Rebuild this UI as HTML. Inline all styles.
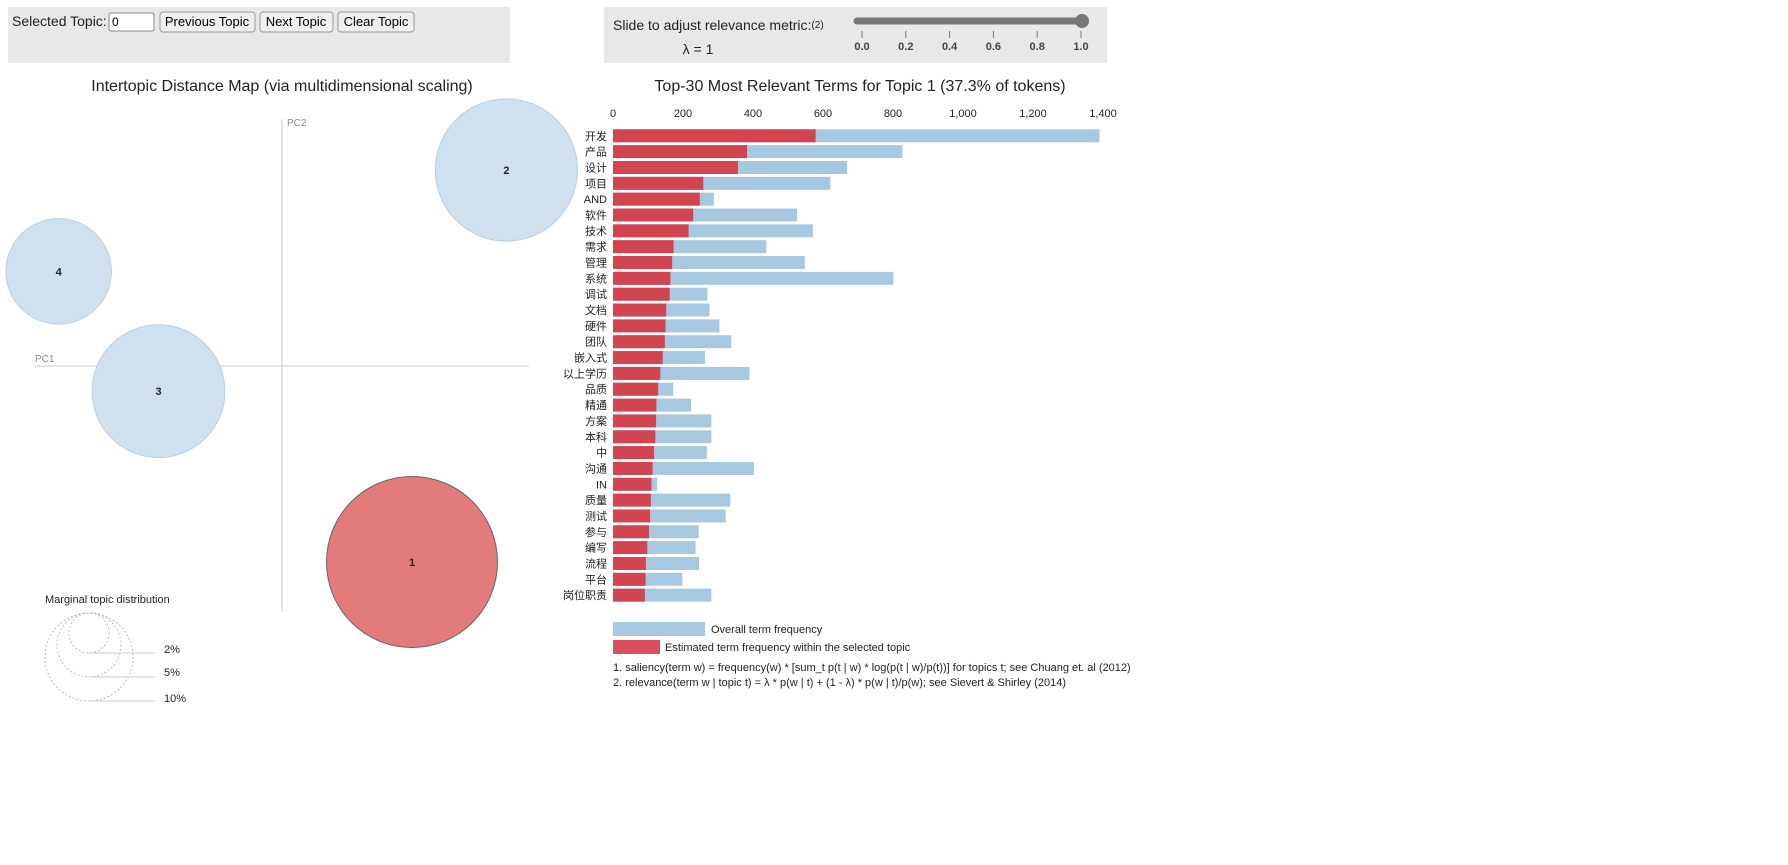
<!DOCTYPE html>
<html><head><meta charset="utf-8"><style>
body{margin:0;width:1788px;height:865px;background:#fff;overflow:hidden;font-family:"Liberation Sans","Noto Sans CJK SC",sans-serif;}
svg{position:absolute;left:0;top:0}
text{font-family:"Liberation Sans","Noto Sans CJK SC",sans-serif}
</style></head><body>
<svg id="s" width="1788" height="865">
 <rect x="8" y="7" width="502" height="56" fill="#e8e8e8"/>
 <text x="12" y="26" font-size="14" fill="#222">Selected Topic:</text>
 <g><rect x="109" y="13" width="45" height="18" fill="#fff" stroke="#888" rx="2"/><text x="112" y="26" font-size="12">0</text></g>
 <g><rect x="160" y="12" width="95" height="20" fill="#efefef" stroke="#999" rx="3"/><text x="207" y="26" font-size="13" text-anchor="middle">Previous Topic</text></g>
 <g><rect x="260" y="12" width="73" height="20" fill="#efefef" stroke="#999" rx="3"/><text x="296" y="26" font-size="13" text-anchor="middle">Next Topic</text></g>
 <g><rect x="338" y="12" width="76" height="20" fill="#efefef" stroke="#999" rx="3"/><text x="376" y="26" font-size="13" text-anchor="middle">Clear Topic</text></g>

 <rect x="604" y="7" width="503" height="56" fill="#e8e8e8"/>
 <text x="613" y="30" font-size="14" fill="#222">Slide to adjust relevance metric:<tspan font-size="10" dy="-2">(2)</tspan></text>
 <text x="698" y="54" font-size="14" fill="#222" text-anchor="middle">λ = 1</text>
 <g id="slider">
  <line x1="857" y1="21" x2="1082" y2="21" stroke="#777" stroke-width="7" stroke-linecap="round"/>
  <circle cx="1082" cy="21" r="7" fill="#777"/>
 </g>

 <text x="282" y="91" font-size="16" fill="#222" text-anchor="middle">Intertopic Distance Map (via multidimensional scaling)</text>
 <text x="860" y="91" font-size="16" fill="#222" text-anchor="middle">Top-30 Most Relevant Terms for Topic 1 (37.3% of tokens)</text>

 <line x1="282" y1="119" x2="282" y2="612" stroke="#ccc"/>
 <line x1="34" y1="366" x2="529" y2="366" stroke="#ccc"/>
 <text x="287" y="126" font-size="10" fill="#888">PC2</text>
 <text x="35" y="362" font-size="10" fill="#888">PC1</text>
 <g id="circles"></g>

 <g>
  <text x="45" y="603" font-size="11" fill="#222">Marginal topic distribution</text>
  <circle cx="89" cy="633" r="20" fill="none" stroke="#bbb" stroke-dasharray="2 2"/>
  <circle cx="89" cy="645" r="32" fill="none" stroke="#bbb" stroke-dasharray="2 2"/>
  <circle cx="89" cy="657" r="44" fill="none" stroke="#bbb" stroke-dasharray="2 2"/>
  <line x1="89" y1="653" x2="155" y2="653" stroke="#ccc"/>
  <line x1="89" y1="677" x2="155" y2="677" stroke="#ccc"/>
  <line x1="89" y1="701" x2="155" y2="701" stroke="#ccc"/>
  <text x="164" y="653" font-size="11" fill="#222">2%</text>
  <text x="164" y="676" font-size="11" fill="#222">5%</text>
  <text x="164" y="702" font-size="11" fill="#222">10%</text>
 </g>

 <g id="bars"></g>
 <g id="xaxis"></g>

 <g>
  <rect x="613" y="622" width="92" height="14" fill="#a6c8e1"/>
  <text x="711" y="633" font-size="11" fill="#222">Overall term frequency</text>
  <rect x="613" y="640" width="47" height="14" fill="#d8505c"/>
  <text x="665" y="651" font-size="11" fill="#222">Estimated term frequency within the selected topic</text>
  <text x="613" y="671" font-size="11" fill="#222">1. saliency(term w) = frequency(w) * [sum_t p(t | w) * log(p(t | w)/p(t))] for topics t; see Chuang et. al (2012)</text>
  <text x="613" y="686" font-size="11" fill="#222">2. relevance(term w | topic t) = λ * p(w | t) + (1 - λ) * p(w | t)/p(w); see Sievert &amp; Shirley (2014)</text>
 </g>
</svg>
<script>
const terms=["开发","产品","设计","项目","AND","软件","技术","需求","管理","系统","调试","文档","硬件","团队","嵌入式","以上学历","品质","精通","方案","本科","中","沟通","IN","质量","测试","参与","编写","流程","平台","岗位职责"];
const overall=[1390,827,669,621,288,526,571,438,548,801,270,276,304,338,263,390,172,223,281,281,268,403,126,335,322,245,236,246,198,281];
const estimated=[579,383,357,258,248,229,216,173,169,164,162,152,150,148,142,135,129,124,123,121,117,113,110,108,106,103,98,94,93,91];
const xTicks=[0,200,400,600,800,1000,1200,1400];
const topicIds=[1,2,3,4];
const topicPC1=[0.10,0.1726,-0.095,-0.1718];
const topicPC2=[-0.14,0.14,-0.018,0.0676];
const topicSize=[37.3,25.8,22.5,14.2];
const lambdaTicks=[0,0.2,0.4,0.6,0.8,1.0];
const NS="http://www.w3.org/2000/svg";
function mk(t,a,p){const e=document.createElementNS(NS,t);for(const k in a)e.setAttribute(k,a[k]);p.appendChild(e);return e;}
const xs=v=>613+v*0.35;
const ys=i=>129.3+i*15.84;
const bars=document.getElementById('bars');
terms.forEach((t,i)=>{
 const b=mk('rect',{x:xs(0),y:ys(i),width:xs(overall[i])-xs(0),height:13,fill:'#a6c8e1'},bars);
 
 
 const r=mk('rect',{x:xs(0),y:ys(i),width:xs(estimated[i])-xs(0),height:13,fill:'#d0454f'},bars);
 
 
 const l=mk('text',{x:607,y:ys(i)+10.5,'font-size':11,'text-anchor':'end',fill:'#222'},bars);
 l.textContent=t;
 
 
});
const xa=document.getElementById('xaxis');
xTicks.forEach(v=>{
 const t=mk('text',{x:xs(v),y:117,'font-size':11,'text-anchor':'middle',fill:'#222'},xa);
 t.textContent=v.toLocaleString('en-US');
 
 
});
const pcx=v=>282+v*1300, pcy=v=>366-v*1400;
const cg=document.getElementById('circles');
topicIds.forEach((id,i)=>{
 const sel=id===1;
 const c=mk('circle',{cx:pcx(topicPC1[i]),cy:pcy(topicPC2[i]),r:Math.sqrt(topicSize[i])*14,fill:sel?'#e47b7b':'#cfe0ee',stroke:sel?'#666':'#bcd0e0','stroke-width':1},cg);
 
 
 const t=mk('text',{x:pcx(topicPC1[i]),y:pcy(topicPC2[i])+4,'font-size':11,'font-weight':'bold','text-anchor':'middle',fill:'#222'},cg);
 t.textContent=id;
 
 
});
const sl=document.getElementById('slider');
lambdaTicks.forEach(v=>{
 const x=862+v*219;
 mk('line',{x1:x,y1:31,x2:x,y2:38,stroke:'#777'},sl);
 const t=mk('text',{x:x,y:50,'font-size':11,'font-weight':'bold','text-anchor':'middle',fill:'#444'},sl);
 t.textContent=v.toFixed(1);
 
 
});
</script>
</body></html>
